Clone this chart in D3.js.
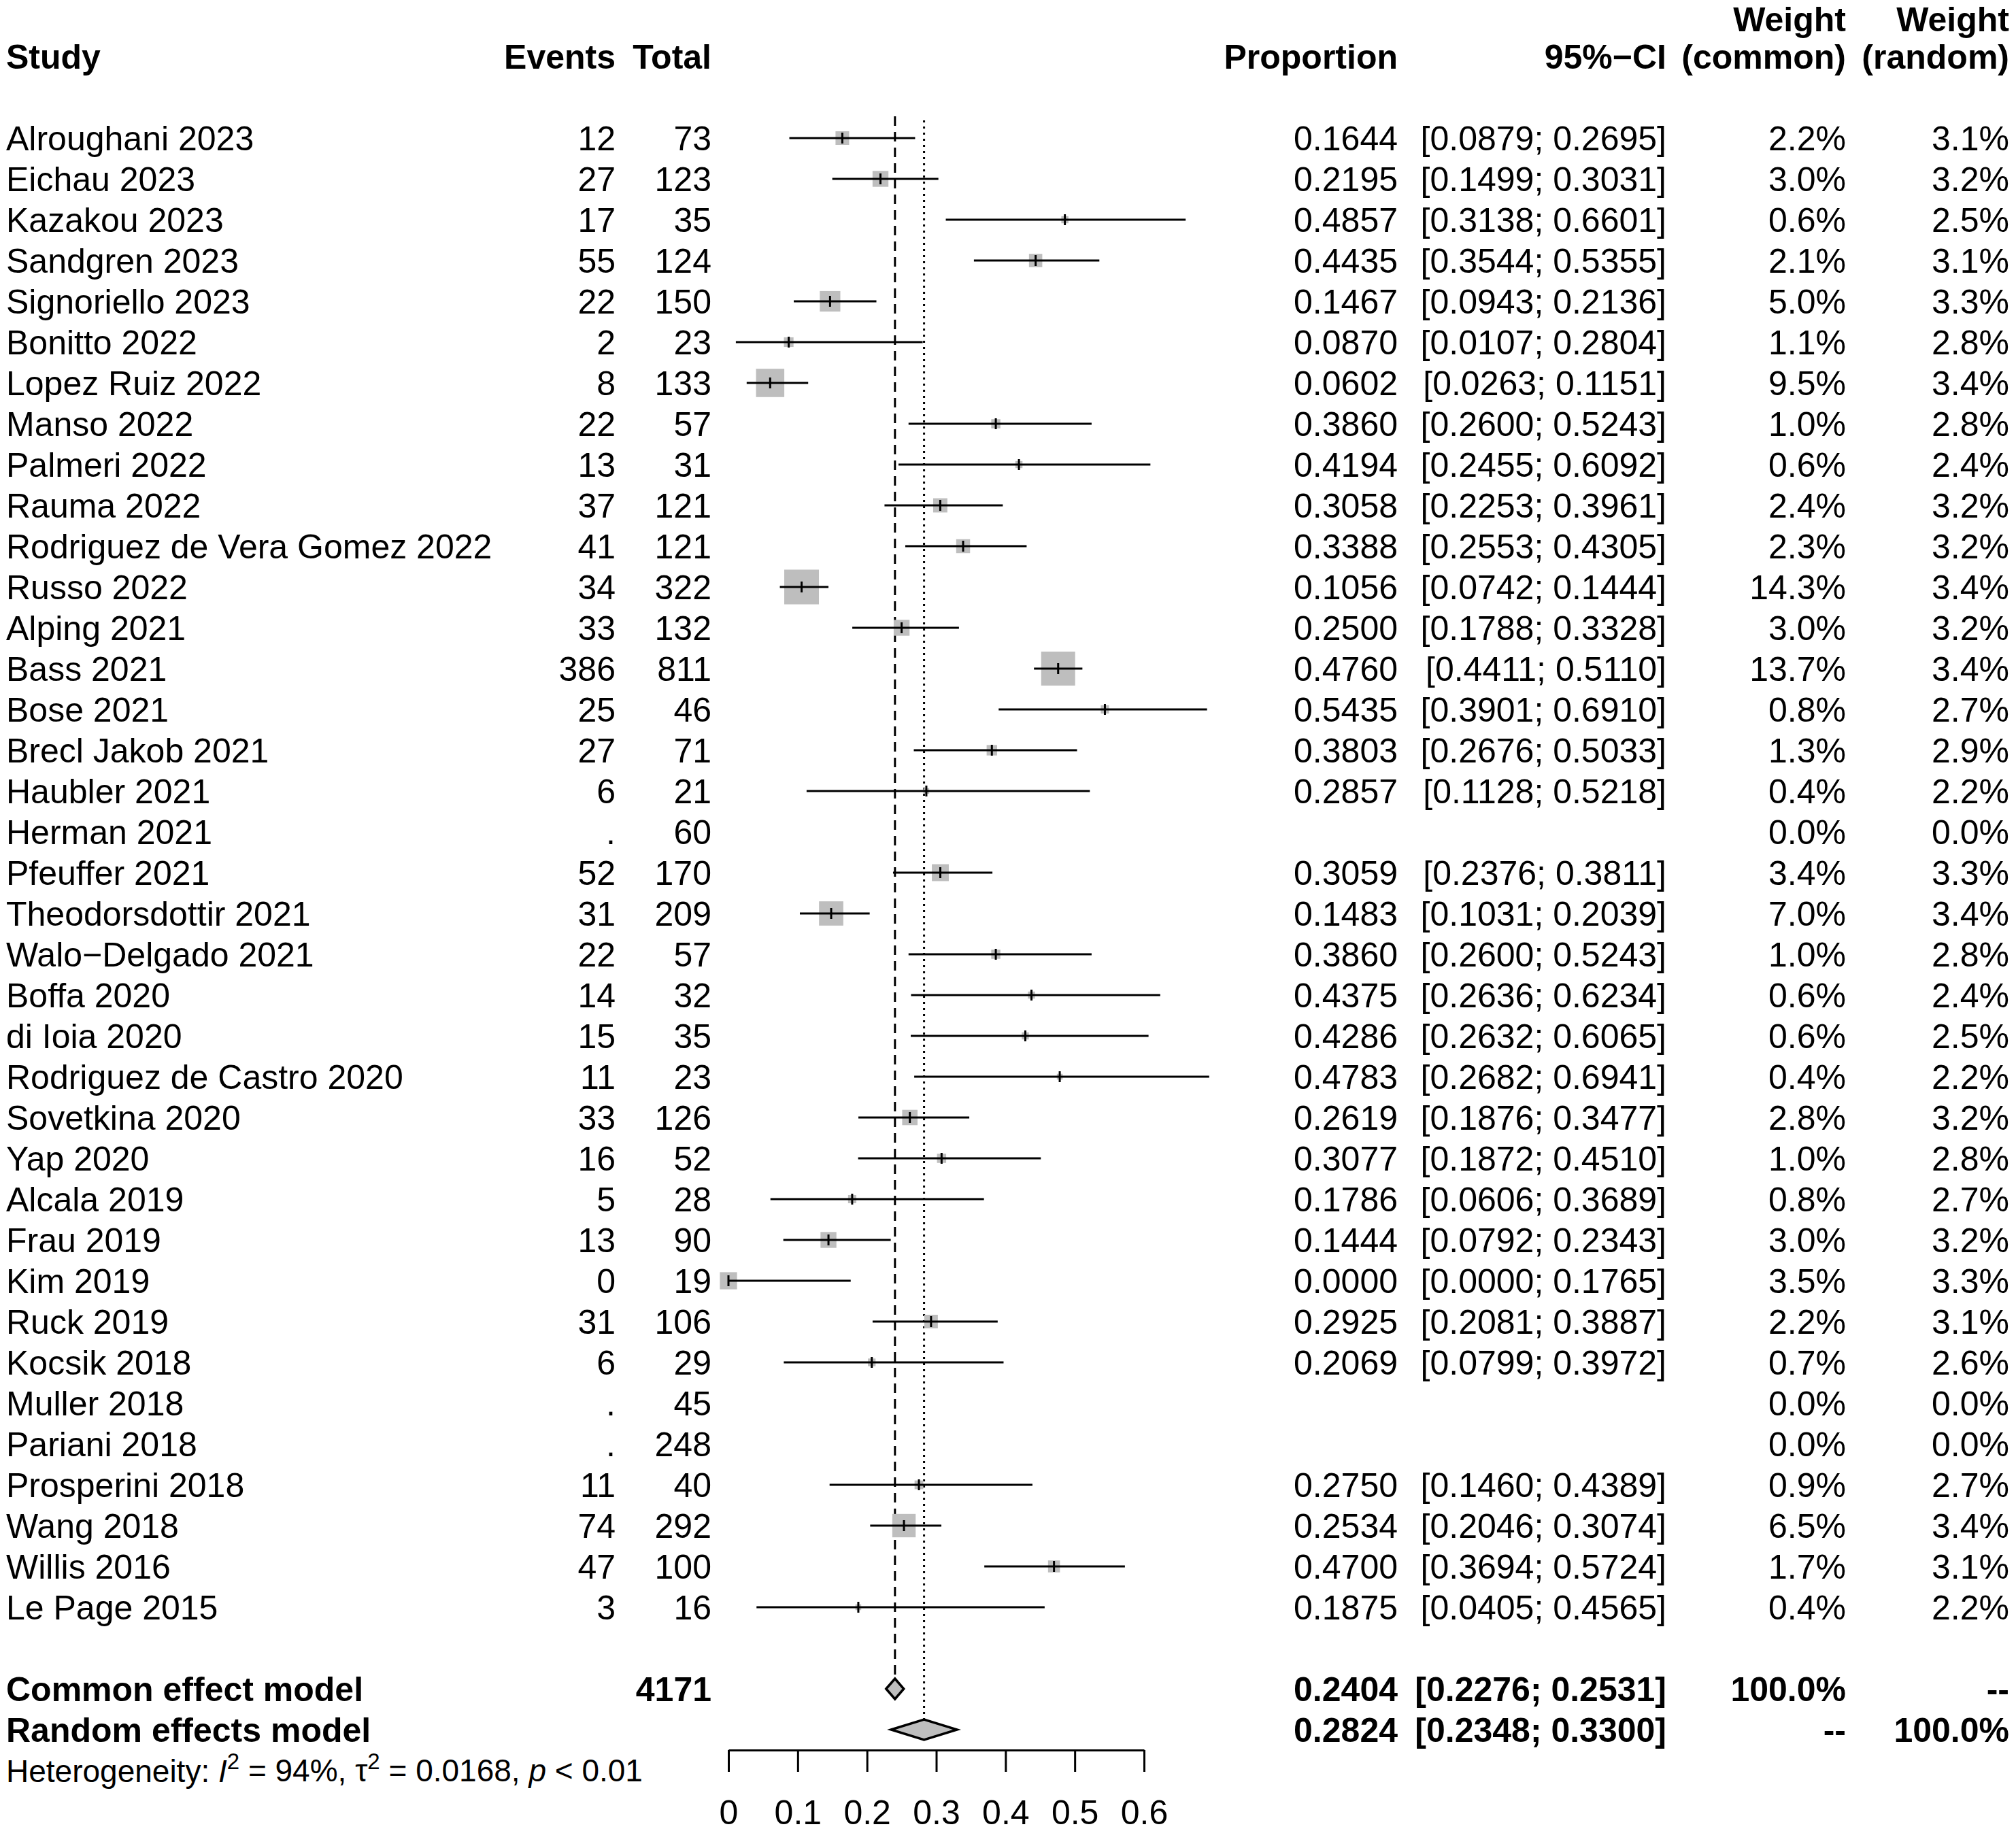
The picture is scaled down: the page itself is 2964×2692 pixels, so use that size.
<!DOCTYPE html>
<html>
<head>
<meta charset="utf-8">
<script src="https://cdnjs.cloudflare.com/ajax/libs/d3/7.8.5/d3.min.js"></script>
<style>
  body { margin: 0; background: #fff; }
  svg text { font-family: 'Liberation Sans', Arial, Helvetica, sans-serif; fill: #000; }
</style>
</head>
<body>
<svg id="chart"></svg>
<script>
// study rows, top to bottom, as printed in the table
var studies = ['Alroughani 2023', 'Eichau 2023', 'Kazakou 2023', 'Sandgren 2023', 'Signoriello 2023',
  'Bonitto 2022', 'Lopez Ruiz 2022', 'Manso 2022', 'Palmeri 2022', 'Rauma 2022',
  'Rodriguez de Vera Gomez 2022', 'Russo 2022', 'Alping 2021', 'Bass 2021', 'Bose 2021',
  'Brecl Jakob 2021', 'Haubler 2021', 'Herman 2021', 'Pfeuffer 2021', 'Theodorsdottir 2021',
  'Walo\u2212Delgado 2021', 'Boffa 2020', 'di Ioia 2020', 'Rodriguez de Castro 2020', 'Sovetkina 2020',
  'Yap 2020', 'Alcala 2019', 'Frau 2019', 'Kim 2019', 'Ruck 2019',
  'Kocsik 2018', 'Muller 2018', 'Pariani 2018', 'Prosperini 2018', 'Wang 2018',
  'Willis 2016', 'Le Page 2015']
var events = [12, 27, 17, 55, 22, 2, 8, 22, 13, 37, 41, 34, 33, 386, 25, 27, 6, null, 52, 31,
  22, 14, 15, 11, 33, 16, 5, 13, 0, 31, 6, null, null, 11, 74, 47, 3]
var totals = [73, 123, 35, 124, 150, 23, 133, 57, 31, 121, 121, 322, 132, 811, 46, 71, 21, 60, 170, 209,
  57, 32, 35, 23, 126, 52, 28, 90, 19, 106, 29, 45, 248, 40, 292, 100, 16]
var props = [0.1644, 0.2195, 0.4857, 0.4435, 0.1467, 0.0870, 0.0602, 0.3860, 0.4194, 0.3058,
  0.3388, 0.1056, 0.2500, 0.4760, 0.5435, 0.3803, 0.2857, null, 0.3059, 0.1483,
  0.3860, 0.4375, 0.4286, 0.4783, 0.2619, 0.3077, 0.1786, 0.1444, 0.0000, 0.2925,
  0.2069, null, null, 0.2750, 0.2534, 0.4700, 0.1875]
var ciLower = [0.0879, 0.1499, 0.3138, 0.3544, 0.0943, 0.0107, 0.0263, 0.2600, 0.2455, 0.2253,
  0.2553, 0.0742, 0.1788, 0.4411, 0.3901, 0.2676, 0.1128, null, 0.2376, 0.1031,
  0.2600, 0.2636, 0.2632, 0.2682, 0.1876, 0.1872, 0.0606, 0.0792, 0.0000, 0.2081,
  0.0799, null, null, 0.1460, 0.2046, 0.3694, 0.0405]
var ciUpper = [0.2695, 0.3031, 0.6601, 0.5355, 0.2136, 0.2804, 0.1151, 0.5243, 0.6092, 0.3961,
  0.4305, 0.1444, 0.3328, 0.5110, 0.6910, 0.5033, 0.5218, null, 0.3811, 0.2039,
  0.5243, 0.6234, 0.6065, 0.6941, 0.3477, 0.4510, 0.3689, 0.2343, 0.1765, 0.3887,
  0.3972, null, null, 0.4389, 0.3074, 0.5724, 0.4565]
var weightCommon = [2.2, 3.0, 0.6, 2.1, 5.0, 1.1, 9.5, 1.0, 0.6, 2.4, 2.3, 14.3, 3.0, 13.7, 0.8, 1.3, 0.4, 0.0, 3.4, 7.0,
  1.0, 0.6, 0.6, 0.4, 2.8, 1.0, 0.8, 3.0, 3.5, 2.2, 0.7, 0.0, 0.0, 0.9, 6.5, 1.7, 0.4]
var weightRandom = [3.1, 3.2, 2.5, 3.1, 3.3, 2.8, 3.4, 2.8, 2.4, 3.2, 3.2, 3.4, 3.2, 3.4, 2.7, 2.9, 2.2, 0.0, 3.3, 3.4,
  2.8, 2.4, 2.5, 2.2, 3.2, 2.8, 2.7, 3.2, 3.3, 3.1, 2.6, 0.0, 0.0, 2.7, 3.4, 3.1, 2.2]

// pooled estimates: [estimate, lower, upper]
var models = ['Common effect model', 'Random effects model']
var modelTotal = 4171
var modelEstimates = [[0.2404, 0.2276, 0.2531], [0.2824, 0.2348, 0.3300]]
var modelWeights = [['100.0%', '--'], ['--', '100.0%']]

var tickValues = [0, 0.1, 0.2, 0.3, 0.4, 0.5, 0.6]

var width = 2964, height = 2692
var fs = 50

var svg = d3.select('#chart').attr('width', width).attr('height', height)
  .attr('viewBox', '0 0 ' + width + ' ' + height)

// row index -> vertical centre; header uses rows -3/-2, pooled rows 38/39
var y = d3.scaleLinear().domain([0, 1]).range([203, 263])
var x = d3.scaleLinear().domain([0, 0.6]).range([1071, 1682])
var side = d3.scaleSqrt().domain([0, d3.max(weightCommon)]).range([0, 51])

var col = { study: 9, events: 905, total: 1046, prop: 2055, ci: 2450, wc: 2714, wr: 2954 }

var f4 = d3.format('.4f'), f1 = d3.format('.1f')

function addText(sel, px, py, txt, anchor, bold) {
  return sel.append('text')
    .attr('x', px).attr('y', py).attr('dy', '0.36em')
    .attr('text-anchor', anchor || 'start')
    .attr('font-size', fs)
    .attr('font-weight', bold ? 'bold' : 'normal')
    .text(txt)
}

// header
var head = svg.append('g').attr('class', 'header')
addText(head, col.study, y(-2), 'Study', 'start', true)
addText(head, col.events, y(-2), 'Events', 'end', true)
addText(head, col.total, y(-2), 'Total', 'end', true)
addText(head, col.prop, y(-2), 'Proportion', 'end', true)
addText(head, col.ci, y(-2), '95%\u2212CI', 'end', true)
addText(head, col.wc, y(-3) + 5, 'Weight', 'end', true)
addText(head, col.wc, y(-2), '(common)', 'end', true)
addText(head, col.wr, y(-3) + 5, 'Weight', 'end', true)
addText(head, col.wr, y(-2), '(random)', 'end', true)

// reference lines for the pooled estimates (drawn first, marks sit on top)
svg.append('line')
  .attr('x1', x(modelEstimates[0][0])).attr('x2', x(modelEstimates[0][0]))
  .attr('y1', y(0) - 32).attr('y2', y(38) - 15)
  .attr('stroke', '#000').attr('stroke-width', 3).attr('stroke-dasharray', '14,9')
svg.append('line')
  .attr('x1', x(modelEstimates[1][0])).attr('x2', x(modelEstimates[1][0]))
  .attr('y1', y(0) - 26).attr('y2', y(39) - 15)
  .attr('stroke', '#000').attr('stroke-width', 3).attr('stroke-dasharray', '3,6')

var data = studies.map(function (s, i) {
  return { study: s, events: events[i], total: totals[i], p: props[i],
    lo: ciLower[i], hi: ciUpper[i], wc: weightCommon[i], wr: weightRandom[i], i: i }
})

var rows = svg.selectAll('g.row').data(data).enter().append('g').attr('class', 'row')

rows.each(function (d) {
  var g = d3.select(this), cy = y(d.i)
  addText(g, col.study, cy, d.study)
  addText(g, col.events, cy, d.events === null ? '.' : d.events, 'end')
  addText(g, col.total, cy, d.total, 'end')
  if (d.p !== null) {
    addText(g, col.prop, cy, f4(d.p), 'end')
    addText(g, col.ci, cy, '[' + f4(d.lo) + '; ' + f4(d.hi) + ']', 'end')
  }
  addText(g, col.wc, cy, f1(d.wc) + '%', 'end')
  addText(g, col.wr, cy, f1(d.wr) + '%', 'end')
})

var marks = rows.filter(function (d) { return d.p !== null })

marks.append('rect')
  .attr('x', function (d) { return x(d.p) - side(d.wc) / 2 })
  .attr('y', function (d) { return y(d.i) - side(d.wc) / 2 })
  .attr('width', function (d) { return side(d.wc) })
  .attr('height', function (d) { return side(d.wc) })
  .attr('fill', '#bebebe')

marks.append('line')
  .attr('x1', function (d) { return x(d.lo) }).attr('x2', function (d) { return x(d.hi) })
  .attr('y1', function (d) { return y(d.i) }).attr('y2', function (d) { return y(d.i) })
  .attr('stroke', '#000').attr('stroke-width', 3)

marks.append('line')
  .attr('x1', function (d) { return x(d.p) }).attr('x2', function (d) { return x(d.p) })
  .attr('y1', function (d) { return y(d.i) - 8 }).attr('y2', function (d) { return y(d.i) + 8 })
  .attr('stroke', '#000').attr('stroke-width', 3)

// pooled rows
models.forEach(function (m, k) {
  var g = svg.append('g').attr('class', 'model'), cy = y(38 + k), e = modelEstimates[k]
  addText(g, col.study, cy, m, 'start', true)
  if (k === 0) addText(g, col.total, cy, modelTotal, 'end', true)
  addText(g, col.prop, cy, f4(e[0]), 'end', true)
  addText(g, col.ci, cy, '[' + f4(e[1]) + '; ' + f4(e[2]) + ']', 'end', true)
  addText(g, col.wc, cy, modelWeights[k][0], 'end', true)
  addText(g, col.wr, cy, modelWeights[k][1], 'end', true)
  g.append('path')
    .attr('d', 'M' + x(e[1]) + ',' + cy + 'L' + x(e[0]) + ',' + (cy - 15) +
      'L' + x(e[2]) + ',' + cy + 'L' + x(e[0]) + ',' + (cy + 15) + 'Z')
    .attr('fill', '#bebebe').attr('stroke', '#000').attr('stroke-width', 3.5)
    .attr('stroke-linejoin', 'miter')
})

// heterogeneity line
var het = svg.append('text')
  .attr('x', col.study).attr('y', y(40)).attr('dy', '0.36em').attr('font-size', 46)
het.append('tspan').text('Heterogeneity: ')
het.append('tspan').attr('font-style', 'italic').text('I')
het.append('tspan').attr('font-size', 33).attr('dy', '-0.55em').text('2')
het.append('tspan').attr('dy', '0.39em').text(' = 94%, \u03c4')
het.append('tspan').attr('font-size', 33).attr('dy', '-0.55em').text('2')
het.append('tspan').attr('dy', '0.39em').text(' = 0.0168, ')
het.append('tspan').attr('font-style', 'italic').text('p')
het.append('tspan').text(' < 0.01')

// x axis
var axis = svg.append('g')
  .attr('transform', 'translate(0,' + 2573 + ')')
  .call(d3.axisBottom(x).tickValues(tickValues).tickSize(32).tickSizeOuter(0)
    .tickPadding(41).tickFormat(d3.format('')))
axis.selectAll('path, line').attr('stroke', '#000').attr('stroke-width', 3)
axis.selectAll('text').attr('font-size', fs).attr('fill', '#000')
  .attr('font-family', "'Liberation Sans', Arial, sans-serif")
</script>
</body>
</html>
